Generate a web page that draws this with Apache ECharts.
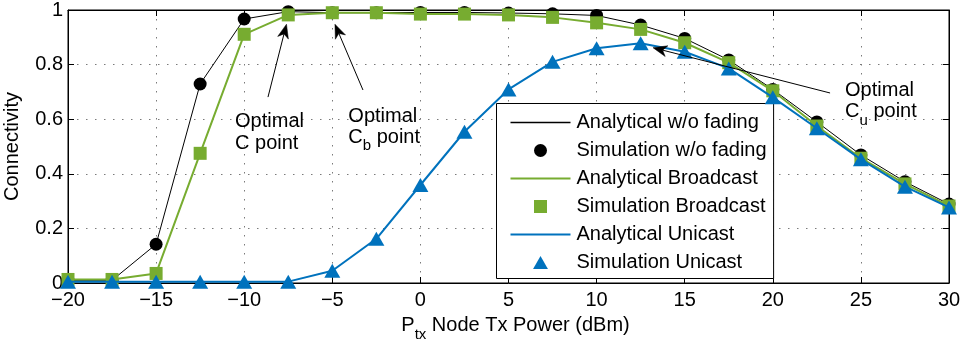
<!DOCTYPE html>
<html>
<head>
<meta charset="utf-8">
<script src="https://cdn.jsdelivr.net/npm/echarts@6/dist/echarts.min.js"></script>
<style>
  html, body { margin: 0; padding: 0; background: #fff; }
  #chart { width: 965px; height: 343px; }
</style>
</head>
<body>
<div id="chart"></div>
<script>
// Transmit power sweep (dBm)
const txPower = [-20, -17.5, -15, -12.5, -10, -7.5, -5, -2.5, 0, 2.5, 5, 7.5, 10, 12.5, 15, 17.5, 20, 22.5, 25, 27.5, 30];

// Connectivity without fading
const noFading = [0.01, 0.01, 0.142, 0.729, 0.967, 0.994, 0.99, 0.99, 0.991, 0.991, 0.989, 0.986, 0.98, 0.945, 0.896, 0.817, 0.709, 0.59, 0.469, 0.371, 0.289];
// Connectivity, broadcast
const broadcast = [0.013, 0.013, 0.035, 0.475, 0.911, 0.982, 0.99, 0.99, 0.985, 0.985, 0.982, 0.973, 0.953, 0.929, 0.88, 0.807, 0.704, 0.575, 0.457, 0.363, 0.282];
// Connectivity, unicast
const unicast = [0.005, 0.005, 0.005, 0.005, 0.005, 0.005, 0.045, 0.162, 0.359, 0.554, 0.709, 0.81, 0.86, 0.878, 0.847, 0.786, 0.68, 0.567, 0.453, 0.353, 0.277];

const seriesNames = [
  'Analytical w/o fading', 'Simulation w/o fading',
  'Analytical Broadcast', 'Simulation Broadcast',
  'Analytical Unicast', 'Simulation Unicast'
];

// Annotation notes: label lines, text anchor (data units), arrow tail and tip (data units)
const notes = [
  { lines: ['Optimal', 'C point'], sub: null, at: [-10.52, 0.628], tail: [-8.65, 0.681], tip: [-7.6, 0.948] },
  { lines: ['Optimal', 'C', 'b', ' point'], sub: 'b', at: [-4.09, 0.648], tail: [-3.26, 0.707], tip: [-4.85, 0.948] },
  { lines: ['Optimal', 'C', 'u', ' point'], sub: 'u', at: [24.1, 0.742], tail: [23.25, 0.696], tip: [13.2, 0.862] }
];

const GREEN = '#77AC30';
const BLUE = '#0072BD';
const FONT = 'Liberation Sans, Arial, Helvetica, sans-serif';

// Legend glyphs: plain strokes for the analytical curves, markers for the simulations
const ICON_THIN = 'path://M0,0 L60,0 L60,1.3 L0,1.3 Z';
const ICON_THICK = 'path://M0,0 L60,0 L60,2 L0,2 Z';
const ICON_SQUARE = 'path://M0,0 L10,0 L10,10 L0,10 Z';
const ICON_TRIANGLE = 'path://M8,0 L16,14 L0,14 Z';

const pairs = arr => txPower.map((x, i) => [x, arr[i]]);

const chart = echarts.init(document.getElementById('chart'), null, { renderer: 'canvas' });

const gridLine = { show: true, lineStyle: { color: '#7a7a7a', type: [1.5, 7.5], width: 1 } };

const option = {
  animation: false,
  backgroundColor: '#fff',
  textStyle: { fontFamily: FONT },
  grid: {
    left: 68, right: 16, top: 10, bottom: 60,
    show: true, borderColor: '#000', borderWidth: 1,
    containLabel: false, outerBoundsMode: 'none'
  },
  xAxis: [{
    type: 'value', min: -20, max: 30, interval: 5,
    axisLine: { show: true, onZero: false, lineStyle: { color: '#000', width: 1 } },
    axisTick: { show: true, inside: true, length: 6, lineStyle: { color: '#000' } },
    axisLabel: {
      color: '#000', fontSize: 20, fontFamily: FONT, margin: 7,
      formatter: v => String(v).replace('-', '\u2212')
    },
    splitLine: gridLine,
    name: '{n|P}{s|tx}{n| Node Tx Power (dBm)}',
    nameLocation: 'middle', nameGap: 32,
    nameTextStyle: {
      padding: [0, 0, 0, 14],
      rich: {
        n: { fontSize: 20, fontFamily: FONT, color: '#000', lineHeight: 22, verticalAlign: 'top' },
        s: { fontSize: 15, fontFamily: FONT, color: '#000', lineHeight: 15, verticalAlign: 'top', padding: [12, 0, 0, 0] }
      }
    }
  }, {
    type: 'value', min: -20, max: 30, interval: 5, position: 'top',
    axisLine: { show: true, onZero: false, lineStyle: { color: '#000', width: 1 } },
    axisTick: { show: true, inside: true, length: 6, lineStyle: { color: '#000' } },
    axisLabel: { show: false }, splitLine: { show: false }
  }],
  yAxis: [{
    type: 'value', min: 0, max: 1, interval: 0.2,
    axisLine: { show: true, onZero: false, lineStyle: { color: '#000', width: 1 } },
    axisTick: { show: true, inside: true, length: 6, lineStyle: { color: '#000' } },
    axisLabel: { color: '#000', fontSize: 20, fontFamily: FONT, margin: 5 },
    splitLine: gridLine,
    name: 'Connectivity', nameLocation: 'middle', nameGap: 46,
    nameTextStyle: { color: '#000', fontSize: 20, fontFamily: FONT }
  }, {
    type: 'value', min: 0, max: 1, interval: 0.2, position: 'right',
    axisLine: { show: true, onZero: false, lineStyle: { color: '#000', width: 1 } },
    axisTick: { show: true, inside: true, length: 6, lineStyle: { color: '#000' } },
    axisLabel: { show: false }, splitLine: { show: false }
  }],
  legend: {
    data: [
      { name: seriesNames[0], icon: ICON_THIN },
      { name: seriesNames[1], icon: 'circle' },
      { name: seriesNames[2], icon: ICON_THICK },
      { name: seriesNames[3], icon: ICON_SQUARE },
      { name: seriesNames[4], icon: ICON_THICK },
      { name: seriesNames[5], icon: ICON_TRIANGLE }
    ],
    orient: 'vertical',
    left: 496.5, top: 103.5,
    padding: [9, 7, 6, 14],
    itemWidth: 60, itemHeight: 13, itemGap: 8,
    symbolKeepAspect: true,
    backgroundColor: '#fff', borderColor: '#000', borderWidth: 1, borderRadius: 0,
    selectedMode: false,
    itemStyle: { opacity: 1 },
    textStyle: { color: '#000', fontSize: 20, fontFamily: FONT, lineHeight: 20, padding: [0, 0, 0, 1] }
  },
  series: [
    {
      name: seriesNames[0], type: 'line', data: pairs(noFading),
      symbol: 'none', showSymbol: false, clip: false,
      lineStyle: { color: '#000', width: 1 }, itemStyle: { color: '#000' }, z: 2
    },
    {
      name: seriesNames[1], type: 'scatter', data: pairs(noFading),
      symbol: 'circle', symbolSize: 13, clip: false,
      itemStyle: { color: '#000', opacity: 1 }, z: 3
    },
    {
      name: seriesNames[2], type: 'line', data: pairs(broadcast),
      symbol: 'none', showSymbol: false, clip: false,
      lineStyle: { color: GREEN, width: 2 }, itemStyle: { color: GREEN }, z: 4
    },
    {
      name: seriesNames[3], type: 'scatter', data: pairs(broadcast),
      symbol: 'rect', symbolSize: 13, clip: false,
      itemStyle: { color: GREEN, opacity: 1 }, z: 5
    },
    {
      name: seriesNames[4], type: 'line', data: pairs(unicast),
      symbol: 'none', showSymbol: false, clip: false,
      lineStyle: { color: BLUE, width: 2 }, itemStyle: { color: BLUE }, z: 6
    },
    {
      name: seriesNames[5], type: 'scatter', data: pairs(unicast),
      symbol: 'triangle', symbolSize: [16, 14], clip: false,
      itemStyle: { color: BLUE, opacity: 1 }, z: 7
    }
  ]
};

chart.setOption(option);

// Annotation texts and arrows, positioned from data coordinates
function buildNotes() {
  const els = [];
  const toPx = p => chart.convertToPixel({ gridIndex: 0 }, p);
  notes.forEach(n => {
    const [tx, ty] = toPx(n.at);
    let text;
    if (n.sub) {
      text = '{n|' + n.lines[0] + '}\n{n|' + n.lines[1] + '}{s|' + n.lines[2] + '}{n|' + n.lines[3] + '}';
    } else {
      text = '{n|' + n.lines[0] + '}\n{n|' + n.lines[1] + '}';
    }
    els.push({
      type: 'text', x: tx, y: ty, z: 100,
      style: {
        text: text, fill: '#000', align: 'left', verticalAlign: 'top',
        rich: {
          n: { fontSize: 20, fontFamily: FONT, fill: '#000', lineHeight: 21.5, verticalAlign: 'top' },
          s: { fontSize: 15, fontFamily: FONT, fill: '#000', lineHeight: 15, verticalAlign: 'top', padding: [11, 0, 0, 0] }
        }
      }
    });
    const [x1, y1] = toPx(n.tail);
    const [x2, y2] = toPx(n.tip);
    const ang = Math.atan2(y2 - y1, x2 - x1);
    const c = Math.cos(ang), s = Math.sin(ang);
    const L = 14, W = 5.5, N = 10;
    const pt = (d, off) => [x2 - d * c - off * s, y2 - d * s + off * c];
    const notch = pt(N, 0);
    els.push({
      type: 'line', z: 100,
      shape: { x1: x1, y1: y1, x2: notch[0], y2: notch[1] },
      style: { stroke: '#000', lineWidth: 1 }
    });
    els.push({
      type: 'polygon', z: 100,
      shape: { points: [[x2, y2], pt(L, W), notch, pt(L, -W)] },
      style: { fill: '#000', stroke: '#000', lineWidth: 0.5 }
    });
  });
  chart.setOption({ graphic: els });
}
buildNotes();
</script>
</body>
</html>
